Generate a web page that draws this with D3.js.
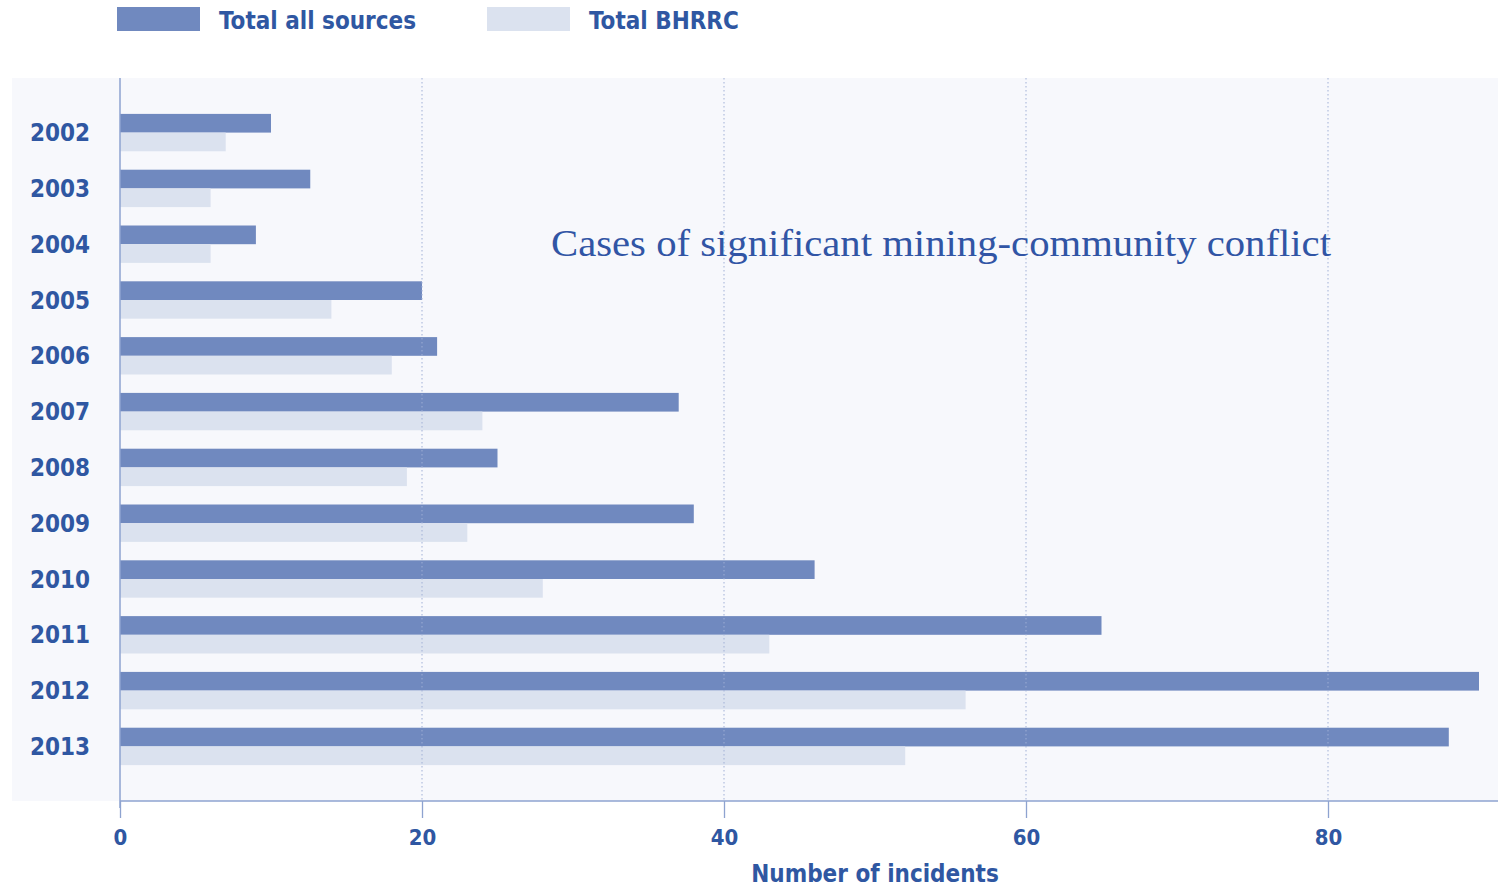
<!DOCTYPE html>
<html>
<head>
<meta charset="utf-8">
<script src="https://cdn.jsdelivr.net/npm/d3@7"></script>
<style>
  body { margin: 0; background: #ffffff; }
  svg { display: block; }
</style>
</head>
<body>
<div id="chart"></div>
<script>
// data
var years = ["2002", "2003", "2004", "2005", "2006", "2007", "2008", "2009", "2010", "2011", "2012", "2013"];
var totalAll = [10, 12.6, 9, 20, 21, 37, 25, 38, 46, 65, 90, 88];
var totalBHRRC = [7, 6, 6, 14, 18, 24, 19, 23, 28, 43, 56, 52];
var seriesNames = ["Total all sources", "Total BHRRC"];
var xTicks = [0, 20, 40, 60, 80];

var W = 1498, H = 888;
var dark = "#7089bf", light = "#dbe2ef", ink = "#2f57a2";
var labelFont = "'DejaVu Sans Condensed', 'DejaVu Sans', sans-serif";

var svg = d3.select("#chart").append("svg")
  .attr("width", W)
  .attr("height", H);

// scales
var x = d3.scaleLinear().domain([0, 80]).range([120, 1328]);
var y = d3.scaleBand().domain(years).range([86, 793]).paddingInner(0.33).paddingOuter(0.5);
var sub = d3.scaleBand().domain(seriesNames).range([0, y.bandwidth()]);

// panel background
svg.append("rect")
  .attr("x", 12).attr("y", 78)
  .attr("width", W - 12).attr("height", 801 - 78)
  .attr("fill", "#f7f8fc");

// bars
var rows = years.map(function(yr, i) {
  return { year: yr, values: [totalAll[i], totalBHRRC[i]] };
});

var g = svg.selectAll("g.row")
  .data(rows)
  .enter().append("g")
  .attr("class", "row")
  .attr("transform", function(d) { return "translate(0," + y(d.year) + ")"; });

g.selectAll("rect")
  .data(function(d) { return d.values.map(function(v, j) { return { name: seriesNames[j], value: v }; }); })
  .enter().append("rect")
  .attr("x", x(0))
  .attr("y", function(d) { return sub(d.name); })
  .attr("width", function(d) { return x(d.value) - x(0); })
  .attr("height", sub.bandwidth())
  .attr("fill", function(d, j) { return j === 0 ? dark : light; });

// dotted grid on top of the bars
svg.selectAll("line.grid")
  .data(xTicks.slice(1))
  .enter().append("line")
  .attr("class", "grid")
  .attr("x1", function(d) { return x(d); })
  .attr("x2", function(d) { return x(d); })
  .attr("y1", 78).attr("y2", 801)
  .attr("stroke", "#9fb0d6")
  .attr("stroke-width", 1.2)
  .attr("stroke-dasharray", "1.5,2.5")
  .attr("opacity", 0.8);

// x axis
var xAxis = svg.append("g")
  .attr("transform", "translate(0,801)")
  .call(d3.axisBottom(x).tickValues(xTicks).tickSize(17).tickPadding(11));
xAxis.select(".domain").remove();
xAxis.selectAll("line").attr("stroke", "#8ea3d0").attr("stroke-width", 1.3);
xAxis.selectAll("text")
  .attr("fill", ink)
  .attr("font-family", labelFont)
  .attr("font-weight", "bold")
  .attr("font-size", 22);

svg.append("line")
  .attr("x1", 120).attr("x2", W)
  .attr("y1", 801).attr("y2", 801)
  .attr("stroke", "#8ea3d0").attr("stroke-width", 1.5);

svg.append("line")
  .attr("x1", 120).attr("x2", 120)
  .attr("y1", 78).attr("y2", 808)
  .attr("stroke", "#8ea3d0").attr("stroke-width", 1.5);

// year labels
svg.selectAll("text.year")
  .data(years)
  .enter().append("text")
  .attr("class", "year")
  .attr("x", 90)
  .attr("y", function(d) { return y(d) + y.bandwidth() / 2; })
  .attr("dy", "0.36em")
  .attr("text-anchor", "end")
  .attr("fill", ink)
  .attr("font-family", labelFont)
  .attr("font-weight", "bold")
  .attr("font-size", 24)
  .text(function(d) { return d; });

// axis title
svg.append("text")
  .attr("x", 875).attr("y", 882)
  .attr("text-anchor", "middle")
  .attr("fill", ink)
  .attr("font-family", labelFont)
  .attr("font-weight", "bold")
  .attr("font-size", 24)
  .text("Number of incidents");

// legend
var legendX = [117, 487];
seriesNames.forEach(function(name, i) {
  svg.append("rect")
    .attr("x", legendX[i]).attr("y", 7)
    .attr("width", 83).attr("height", 24)
    .attr("fill", i === 0 ? dark : light);
  svg.append("text")
    .attr("x", legendX[i] + 102).attr("y", 29)
    .attr("fill", ink)
    .attr("font-family", labelFont)
    .attr("font-weight", "bold")
    .attr("font-size", 24)
    .text(name);
});

// annotation
svg.append("text")
  .attr("x", 551).attr("y", 256)
  .attr("fill", "#3155a5")
  .attr("font-family", "'Liberation Serif', 'DejaVu Serif', serif")
  .attr("font-size", 37)
  .attr("textLength", 780)
  .attr("lengthAdjust", "spacingAndGlyphs")
  .text("Cases of significant mining-community  conflict");
</script>
</body>
</html>
